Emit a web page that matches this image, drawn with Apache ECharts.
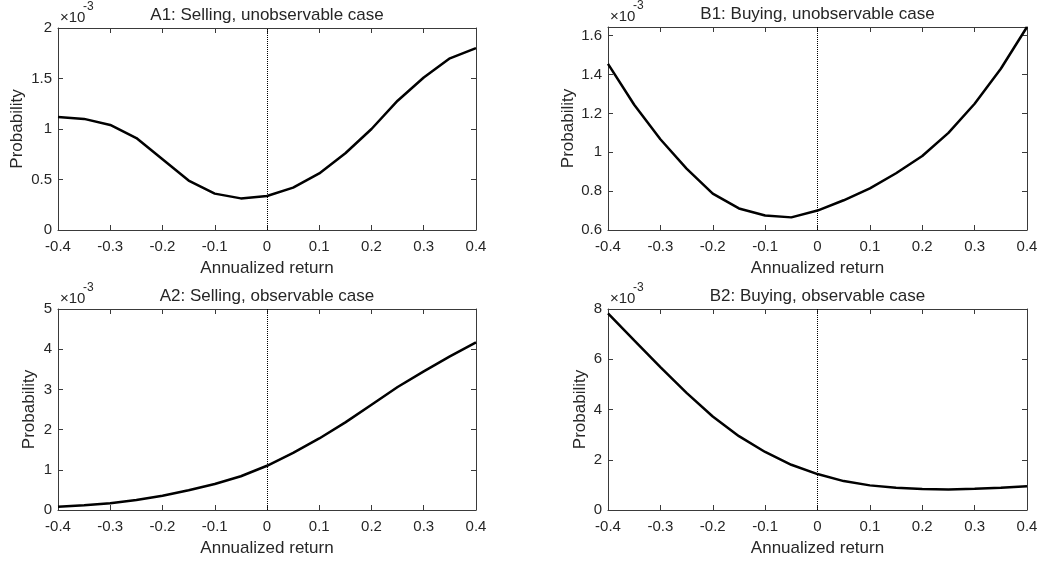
<!DOCTYPE html>
<html>
<head>
<meta charset="utf-8">
<script src="https://cdn.jsdelivr.net/npm/echarts@6/dist/echarts.min.js"></script>
<style>
html,body{margin:0;padding:0;background:#fff;}
#chart{width:1041px;height:561px;}
</style>
</head>
<body>
<div id="chart"></div>
<script>
// Annualized return grid (x values)
const xValues = [-0.4,-0.35,-0.3,-0.25,-0.2,-0.15,-0.1,-0.05,0,0.05,0.1,0.15,0.2,0.25,0.3,0.35,0.4];
// Probabilities, in units of 10^-3
const a1Values = [1.12,1.10,1.04,0.91,0.70,0.49,0.36,0.313,0.337,0.42,0.56,0.76,1.00,1.28,1.51,1.70,1.80];
const b1Values = [1.455,1.245,1.067,0.916,0.787,0.711,0.675,0.665,0.700,0.753,0.814,0.892,0.981,1.100,1.250,1.430,1.645];
const a2Values = [0.08,0.12,0.17,0.25,0.355,0.49,0.645,0.84,1.10,1.42,1.78,2.18,2.62,3.06,3.45,3.82,4.17];
const b2Values = [7.83,6.75,5.69,4.66,3.72,2.94,2.31,1.80,1.43,1.15,0.98,0.886,0.833,0.82,0.846,0.886,0.95];
const titles = ['A1: Selling, unobservable case','B1: Buying, unobservable case','A2: Selling, observable case','B2: Buying, observable case'];
const xTicks = {min:-0.4, max:0.4, interval:0.1};
const yRanges = [
  {min:0, max:2, interval:0.5},
  {min:0.6, max:1.645, interval:0.2},
  {min:0, max:5, interval:1},
  {min:0, max:8, interval:2}
];
const xName = 'Annualized return';
const yName = 'Probability';
const expText = '\u00d710';
const expSup = '-3';

// layout
const grids = [
  {left:58, top:28, width:418, height:202},
  {left:608, top:27, width:419, height:203},
  {left:58, top:309, width:418, height:201},
  {left:608, top:309, width:419, height:201}
];
const yNameGaps = [32, 31, 20, 19];
const seriesValues = [a1Values, b1Values, a2Values, b2Values];

const TXT = '#262626';
const AX = '#3a3a3a';
const FONT = 'Liberation Sans, Arial, sans-serif';
const fmt = v => String(+(+v).toFixed(3));

const option = {
  animation:false,
  backgroundColor:'#fff',
  textStyle:{fontFamily:FONT},
  grid: grids.map(g => Object.assign({containLabel:false}, g)),
  title: grids.map((g,i) => ({
    text: titles[i], left: g.left + g.width/2, top: g.top - 21, textAlign:'center', padding:0,
    textStyle:{fontFamily:FONT, fontSize:17, fontWeight:'normal', color:TXT}
  })),
  xAxis: [],
  yAxis: [],
  series: [],
  graphic: []
};

grids.forEach((g,i) => {
  const lineStyle = {color:AX, width:1};
  option.xAxis.push({
    type:'value', gridIndex:i, position:'bottom', min:xTicks.min, max:xTicks.max, interval:xTicks.interval,
    axisLine:{show:true, onZero:false, lineStyle}, axisTick:{show:true, inside:true, length:5, lineStyle},
    splitLine:{show:false},
    axisLabel:{color:TXT, fontSize:15, fontFamily:FONT, margin:9, formatter: fmt},
    name:xName, nameLocation:'middle', nameGap:30,
    nameTextStyle:{color:TXT, fontSize:17, fontFamily:FONT}
  });
  option.xAxis.push({
    type:'value', gridIndex:i, position:'top', min:xTicks.min, max:xTicks.max, interval:xTicks.interval,
    axisLine:{show:true, onZero:false, lineStyle}, axisTick:{show:true, inside:true, length:5, lineStyle},
    splitLine:{show:false}, axisLabel:{show:false}
  });
  const yr = yRanges[i];
  option.yAxis.push({
    type:'value', gridIndex:i, position:'left', min:yr.min, max:yr.max, interval:yr.interval,
    axisLine:{show:true, onZero:false, lineStyle}, axisTick:{show:true, inside:true, length:5, lineStyle},
    splitLine:{show:false},
    axisLabel:{color:TXT, fontSize:15, fontFamily:FONT, margin:6,
      formatter: v => { const k=(v-yr.min)/yr.interval; return Math.abs(k-Math.round(k))<1e-6 ? fmt(v) : ''; }},
    name:yName, nameLocation:'middle', nameGap:yNameGaps[i],
    nameTextStyle:{color:TXT, fontSize:17, fontFamily:FONT}
  });
  option.yAxis.push({
    type:'value', gridIndex:i, position:'right', min:yr.min, max:yr.max, interval:yr.interval,
    axisLine:{show:true, onZero:false, lineStyle}, axisTick:{show:true, inside:true, length:5, lineStyle},
    splitLine:{show:false}, axisLabel:{show:false}
  });
  option.series.push({
    type:'line', xAxisIndex:2*i, yAxisIndex:2*i,
    data: xValues.map((x,k) => [x, seriesValues[i][k]]),
    showSymbol:false, symbol:'none', lineStyle:{color:'#000', width:2.5}, itemStyle:{color:'#000'},
    silent:true, clip:true,
    markLine:{silent:true, symbol:'none', label:{show:false}, animation:false,
      lineStyle:{type:'dotted', color:'#000', width:1}, data:[{xAxis:0}]}
  });
  option.graphic.push({
    type:'text', left: g.left + 2, top: g.top - 18,
    style:{text:expText, fill:TXT, fontSize:15, fontFamily:FONT}
  });
  option.graphic.push({
    type:'text', left: g.left + 25, top: g.top - 27,
    style:{text:expSup, fill:TXT, fontSize:12, fontFamily:FONT}
  });
});

const chart = echarts.init(document.getElementById('chart'), null, {renderer:'canvas'});
chart.setOption(option);
</script>
</body>
</html>
